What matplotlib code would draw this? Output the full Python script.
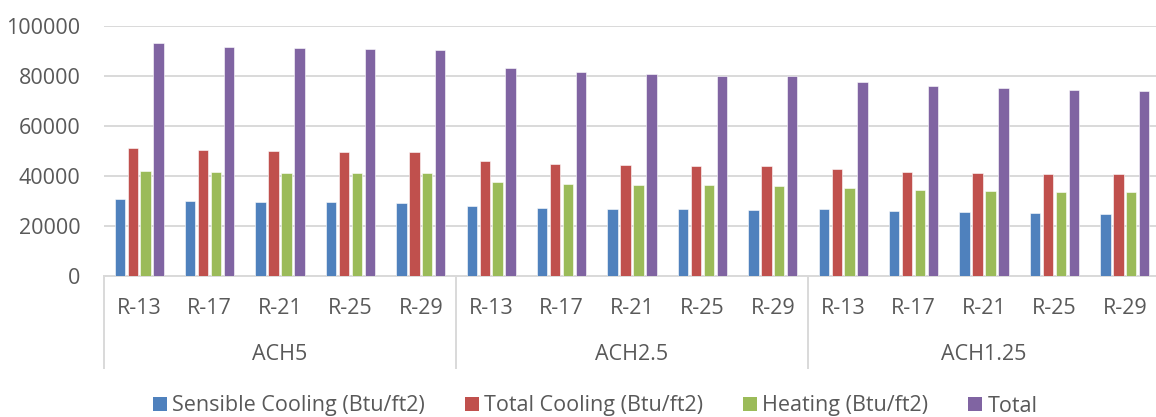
import matplotlib
matplotlib.use("Agg")
import matplotlib.pyplot as plt
import matplotlib.transforms as mtransforms
from matplotlib.lines import Line2D
from matplotlib.patches import Patch
import numpy as np

# insulation levels inside each air-change group
r_values = ["R-13", "R-17", "R-21", "R-25", "R-29"]
ach_groups = ["ACH5", "ACH2.5", "ACH1.25"]

sensible_cooling = [30560, 29880, 29480, 29350, 29200,
                    27880, 27200, 26680, 26550, 26280,
                    26550, 25750, 25350, 25080, 24800]
total_cooling = [51080, 50150, 49750, 49480, 49350,
                 45750, 44680, 44280, 43880, 43750,
                 42550, 41600, 41080, 40680, 40550]
heating = [41880, 41480, 41080, 40950, 40950,
           37350, 36800, 36400, 36150, 36000,
           34950, 34280, 33880, 33600, 33350]
total = [93080, 91600, 90950, 90550, 90280,
         82950, 81480, 80680, 80000, 79750,
         77480, 75880, 74950, 74280, 74000]

series_names = ["Sensible Cooling (Btu/ft2)", "Total Cooling (Btu/ft2)",
                "Heating (Btu/ft2)", "Total"]
colors = ["#4F81BD", "#C0504D", "#9BBB59", "#8064A2"]

plt.rcParams['font.family'] = ['Open Sans', 'DejaVu Sans']
text_col = "#595959"
grid_col = "#D9D9D9"
fs = 15.5

fig = plt.figure(figsize=(11.56, 4.17), dpi=100)
ax = fig.add_axes([104 / 1156, 141.3 / 417, 1056 / 1156, 250 / 417])

n = len(total)
x = np.arange(n)
step = 0.183
width = 0.148
all_series = [sensible_cooling, total_cooling, heating, total]
for i, (vals, c) in enumerate(zip(all_series, colors)):
    ax.bar(x + (i - 1.5) * step, vals, width, color=c, edgecolor="white",
           linewidth=0.4, zorder=3)

ax.set_xlim(-0.5, n - 0.5)
ax.set_ylim(0, 100000)
ax.set_yticks(np.arange(0, 100001, 20000))
ax.yaxis.grid(True, color=grid_col, linewidth=1.4, zorder=0)
ax.set_axisbelow(True)
for s in ["top", "right", "left"]:
    ax.spines[s].set_visible(False)
ax.spines["bottom"].set_color(grid_col)
ax.spines["bottom"].set_linewidth(1.4)
ax.tick_params(axis="y", length=0, pad=17, labelsize=fs, labelcolor=text_col)

ax.set_xticks(x)
ax.set_xticklabels(r_values * len(ach_groups))
ax.tick_params(axis="x", length=0, pad=16, labelsize=fs, labelcolor=text_col)

# second level of the category axis: group names and separators
trans = mtransforms.blended_transform_factory(ax.transData, ax.transAxes)
k = len(r_values)
for g, name in enumerate(ach_groups):
    ax.text(g * k + (k - 1) / 2, -0.315, name, transform=trans, ha="center",
            va="center", fontsize=fs, color=text_col)
for g in range(len(ach_groups) + 1):
    ax.add_line(Line2D([g * k - 0.5, g * k - 0.5], [0, -0.37], transform=trans,
                       color=grid_col, linewidth=1.4, clip_on=False))

handles = [Patch(facecolor=c, edgecolor="none") for c in colors]
fig.legend(handles, series_names, loc="center", ncol=4,
           bbox_to_anchor=(595 / 1156, 1 - 406 / 417), frameon=False,
           fontsize=fs, labelcolor=text_col, handlelength=0.65,
           handleheight=0.65, handletextpad=0.25, columnspacing=1.85,
           borderpad=0)

fig.savefig("out.png", dpi=100)
